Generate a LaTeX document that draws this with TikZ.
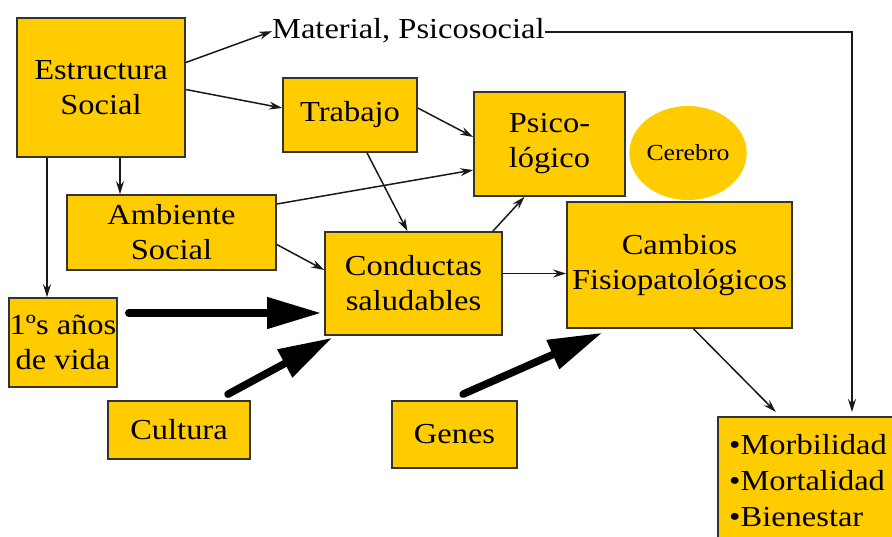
\documentclass[tikz,border=0pt]{standalone}
\usepackage{fontspec}
\setmainfont{Liberation Serif}[FakeStretch=1.12]
\usetikzlibrary{arrows.meta,calc,shapes.geometric}
\definecolor{boxfill}{HTML}{FFCC00}
\definecolor{boxline}{HTML}{333333}
\begin{document}
\begin{tikzpicture}[x=1pt,y=-1pt,
  box/.style={draw=boxline,line width=1.6pt,fill=boxfill,inner sep=0pt,align=center,font=\fontsize{29}{35}\selectfont},
  thinarrow/.style={line width=1.5pt,draw=black!90,-{Stealth[length=13pt,width=8pt]}},
  bigarrow/.style={line width=7.5pt,line cap=round,-{Triangle[length=54pt,width=30pt]}}]
\useasboundingbox (0,0) rectangle (892,536);

\node[box,minimum width=168pt,minimum height=139pt] (est) at (101,87.5) {Estructura\\Social};
\node[inner sep=0pt,anchor=base west,font=\fontsize{29}{35}\selectfont] (mat) at (272,38) {Material, Psicosocial};
\node[box,minimum width=134pt,minimum height=74pt] (trab) at (350,115) {Trabajo};
\node[box,minimum width=151pt,minimum height=104pt] (psi) at (549.5,144) {Psico-\\lógico};
\node[ellipse,fill=boxfill,minimum width=108pt,minimum height=94pt,inner sep=0pt,font=\fontsize{23}{28}\selectfont] (cer) at (688,153) {Cerebro};
\node[box,minimum width=225pt,minimum height=126pt] (camb) at (679.5,265) {Cambios\\Fisiopatológicos};
\node[box,minimum width=177pt,minimum height=103pt] (cond) at (413.5,283.5) {Conductas\\saludables};
\node[box,minimum width=209pt,minimum height=75pt] (amb) at (171.5,232.5) {Ambiente\\Social};
\node[box,minimum width=108pt,minimum height=89pt] (anos) at (63,342.5) {1ºs años\\de vida};
\node[box,minimum width=142pt,minimum height=58pt] (cult) at (179,430) {Cultura};
\node[box,minimum width=125pt,minimum height=67pt] (gen) at (454.5,434.5) {Genes};
\node[box,minimum width=180pt,minimum height=128pt,align=left,font=\fontsize{29}{36}\selectfont] (morb) at (808,481) {•Morbilidad\\•Mortalidad\\•Bienestar};
\coordinate (drop) at (852,417);

% thin connectors
\draw[thinarrow] ([yshift=25pt]est.east) -- ([yshift=-1pt]mat.west);
\draw[thinarrow] ([yshift=-2pt]est.east) -- ([yshift=7pt]trab.west);
\draw[thinarrow] ([xshift=19pt]est.south) -- ([xshift=19pt]est.south |- amb.north);
\draw[thinarrow] ([xshift=-54pt]est.south) -- ([xshift=-54pt]est.south |- anos.north);
\draw[thinarrow] ([yshift=7pt]trab.east) -- ([yshift=7pt]psi.west);
\draw[thinarrow] ([xshift=17pt]trab.south) -- ([xshift=-6pt]cond.north);
\draw[thinarrow] ([yshift=28.5pt]amb.east) -- ([yshift=-26pt]psi.west);
\draw[thinarrow] ([yshift=-12pt]amb.east) -- ([yshift=13.5pt]cond.west);
\draw[thinarrow] ([xshift=-10pt]cond.north east) -- ([xshift=-25pt]psi.south);
\draw[thinarrow] ([yshift=10pt]cond.east) -- ([yshift=10pt]cond.east -| camb.west);
\draw[thinarrow,shorten >=6pt] ([xshift=14pt]camb.south) -- ([xshift=-28pt]morb.north);
\draw[thinarrow,shorten >=5pt] ([yshift=-2pt]mat.east) -| (drop);

% thick connectors
\draw[bigarrow] ([xshift=11pt,yshift=29.5pt]anos.east) -- ([xshift=-3pt,yshift=-29.5pt]cond.west);
\draw[bigarrow] ([xshift=49pt,yshift=6pt]cult.north) -- ([xshift=8pt,yshift=-2pt]cond.south west);
\draw[bigarrow] ([xshift=8.5pt,yshift=6pt]gen.north) -- ([xshift=36pt,yshift=-4pt]camb.south west);
\end{tikzpicture}
\end{document}
